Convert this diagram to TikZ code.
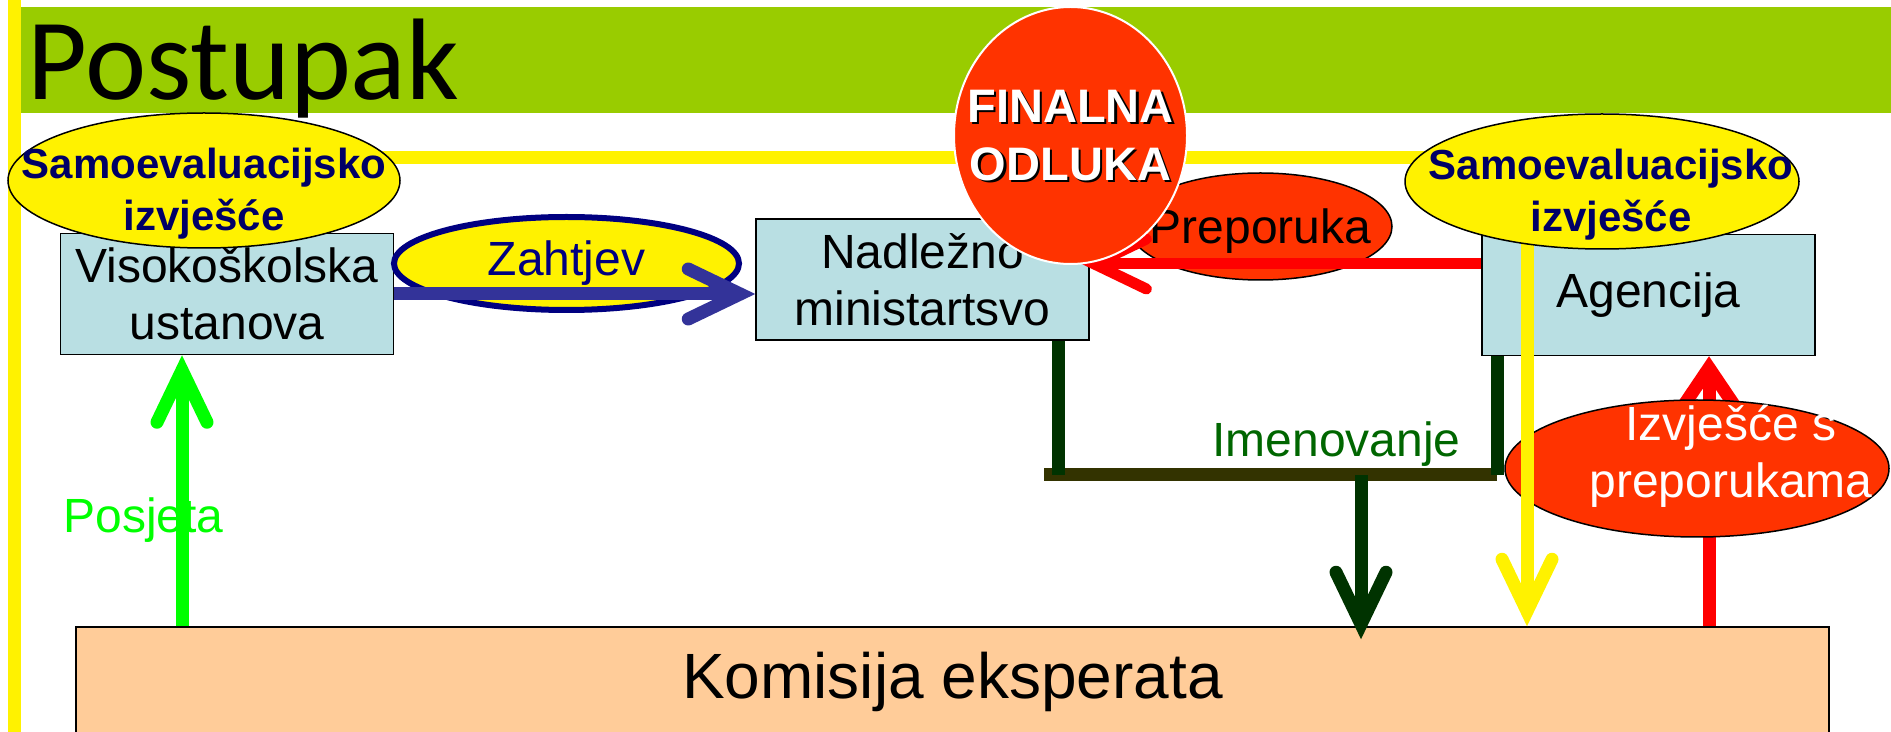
\documentclass[tikz,border=0pt]{standalone}
\usepackage{fontspec}
\setmainfont{Liberation Sans}
\newfontfamily\naslovfont{Carlito}
\usetikzlibrary{shapes,shapes.geometric,arrows.meta,calc,positioning}

\definecolor{traka}{RGB}{153,204,0}
\definecolor{svijetloplava}{RGB}{185,223,227}
\definecolor{breskva}{RGB}{255,204,153}
\definecolor{narancasta}{RGB}{255,51,0}
\definecolor{tamnoplava}{RGB}{0,0,102}
\definecolor{plava}{RGB}{0,0,128}
\definecolor{ljubicastoplava}{RGB}{51,51,153}
\definecolor{tamnozelena}{RGB}{0,51,0}
\definecolor{maslinasta}{RGB}{51,51,0}
\definecolor{zelenitekst}{RGB}{0,102,0}

\begin{document}
\begin{tikzpicture}[x=0.5pt,y=-0.5pt,align=center,
  font=\fontsize{24}{28.5}\selectfont,
  kutija/.style={rectangle, draw=black, line width=0.75pt, fill=svijetloplava,
    minimum width=166.5pt, minimum height=60.5pt, inner sep=0pt},
  oblak/.style={ellipse, draw=black, line width=0.75pt, fill=narancasta, inner sep=0pt},
  samo/.style={oblak, fill=yellow, minimum width=196pt, minimum height=67.5pt},
  samotekst/.style={text=tamnoplava, font=\bfseries\fontsize{21}{26}\selectfont},
  odlukatekst/.style={font=\bfseries\fontsize{23.5}{29}\selectfont},
  strelica/.style={line width=6.5pt,
    -{Straight Barb[length=26pt,width=25pt,line cap=round,line join=miter]}}]

  \useasboundingbox (0,0) rectangle (1891,732);
  \clip (0,0) rectangle (1891,732);

  %% naslovna traka
  \fill[traka] (21,7) rectangle (1891,113);
  \fill[yellow] (8,0) rectangle (21,732);

  \node[kutija, fill=breskva, minimum width=876.5pt, minimum height=55pt,
    font=\fontsize{32}{36}\selectfont] (komisija) at (952.5,682) {Komisija eksperata};
  \node[kutija] (visoko) at (227,294) {Visokoškolska\\ustanova};
  \node[kutija] (nadlezno) at (922.5,279.5) {Nadležno\\ministartsvo};
  \node[kutija] (agencija) at (1648.5,295) {Agencija};

  %% zahtjev
  \node[ellipse, draw=plava, line width=3pt, fill=yellow, inner sep=0pt,
    minimum width=172.5pt, minimum height=46.5pt, text=plava] (zahtjev) at (566.5,263.5) {Zahtjev};
  \draw[strelica, ljubicastoplava] (visoko.east) -- (visoko.east -| nadlezno.west);

  %% preporuka
  \node[oblak, minimum width=131.5pt, minimum height=53.5pt,
    label={[yshift=-2.25pt]center:Preporuka}] (preporuka) at (1260.5,226.5) {};
  \coordinate (prep) at ([yshift=15.5pt]agencija.west);
  \draw[strelica, red, line width=5.5pt, shorten >=-4pt] (prep) -- (prep -| nadlezno.east);

  %% imenovanje
  \coordinate (imeL) at (1058,475);
  \coordinate (imeR) at (1497,475);
  \coordinate (imeM) at (1361,475);
  \draw[maslinasta, line width=6.5pt] ([xshift=-7pt]imeL) -- (imeR);
  \draw[tamnozelena, line width=6.5pt] (nadlezno.south -| imeL) -- (imeL);
  \draw[tamnozelena, line width=6.5pt] (agencija.south -| imeR) -- (imeR);
  \draw[strelica, tamnozelena] (imeM) -- ($(imeM |- komisija.north)+(0,13)$);
  \node[anchor=base west, inner sep=0pt, text=zelenitekst] (imenovanje) at (1212,457) {Imenovanje};

  %% izvjesce komisije
  \coordinate (izvx) at (1709,500);
  \draw[strelica, red, -{Straight Barb[length=20pt,width=27pt,line cap=round,line join=miter]}]
    (izvx |- komisija.north) -- (izvx |- agencija.south);
  \node[oblak, minimum width=192pt, minimum height=68.5pt,
    label={[text=white, xshift=17pt, yshift=6.25pt]center:{Izvješće s\\preporukama}}] (izvjesce) at (1697,468.5) {};

  %% posjeta
  \node[anchor=base west, inner sep=0pt, text=green] (posjeta) at (63,532) {Posjeta};
  \coordinate (posx) at (182,500);
  \draw[strelica, green] (posx |- komisija.north) -- (posx |- visoko.south);

  %% samoevaluacija ide agenciji i komisiji
  \coordinate (ypoc) at (204,158);
  \coordinate (ykut) at (1527,158);
  \draw[strelica, yellow] (ypoc) -- (ykut) -- (ykut |- komisija.north);

  \node[samo, label={[samotekst, yshift=-6.5pt]center:{Samoevaluacijsko\\izvješće}}] (samoL) at (204,180.5) {};
  \node[samo, minimum width=197pt,
    label={[samotekst, xshift=4.5pt, yshift=-6.75pt]center:{Samoevaluacijsko\\izvješće}}] (samoR) at (1602,181.5) {};

  \node[oblak, draw=white, line width=1pt, minimum width=116.5pt, minimum height=128.5pt,
    label={[odlukatekst, text=black, xshift=1.2pt, yshift=-1.2pt]center:{FINALNA\\ODLUKA}},
    label={[odlukatekst, text=white]center:{FINALNA\\ODLUKA}}] (odluka) at (1070.5,135.5) {};

  \node[anchor=base west, inner sep=0pt, font=\naslovfont\fontsize{58}{60}\selectfont] (naslov) at (27,100) {Postupak};
\end{tikzpicture}
\end{document}
